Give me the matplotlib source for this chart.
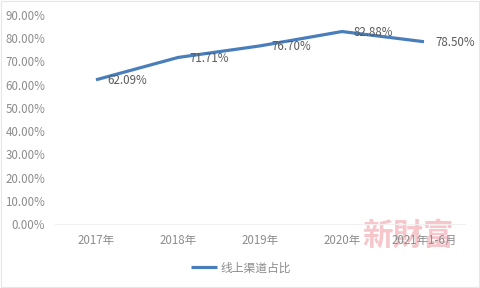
import matplotlib
matplotlib.use("Agg")
import matplotlib.pyplot as plt
from matplotlib.ticker import FuncFormatter

plt.rcParams["font.family"] = ["Noto Sans CJK SC", "DejaVu Sans"]

years = ["2017年", "2018年", "2019年", "2020年", "2021年1-6月"]
online_share = [62.09, 71.71, 76.70, 82.88, 78.50]
series_name = "线上渠道占比"

line_color = "#4a7ebb"
text_color = "#8c8c8c"

fig = plt.figure(figsize=(4.8, 2.88), dpi=100)
ax = fig.add_axes([55 / 480, 1 - 224 / 288, 410 / 480, 209 / 288])
ax.patch.set_alpha(0)

x = range(len(years))
ax.plot(x, online_share, color=line_color, lw=2.3, solid_capstyle="butt", label=series_name)
for xi, v in zip(x, online_share):
    ax.annotate(f"{v:.2f}%", (xi, v), xytext=(8, -0.5), textcoords="offset points",
                ha="left", va="center", fontsize=8.3, color="#595959")

ax.set_xlim(-0.5, len(years) - 0.5)
ax.set_ylim(0, 90)
ax.set_yticks(range(0, 91, 10))
ax.yaxis.set_major_formatter(FuncFormatter(lambda v, p: f"{v:.2f}%"))
ax.set_xticks(list(x))
ax.set_xticklabels(years)
ax.tick_params(length=0, labelsize=8.3, colors=text_color)
ax.tick_params(axis="y", pad=7)
ax.tick_params(axis="x", pad=7)
for side in ["top", "right", "left"]:
    ax.spines[side].set_visible(False)
ax.spines["bottom"].set_color("#f0f0f0")
ax.spines["bottom"].set_linewidth(0.8)

# watermark sits underneath the axes so the tick labels stay on top
fig.text(408 / 480, 1 - 236 / 288, "新財富", family=["Noto Sans CJK TC", "DejaVu Sans"],
         fontsize=22, fontweight="bold", color="#f7c6ca", ha="center", va="center", zorder=-1)

fig.legend(loc="center", bbox_to_anchor=(241 / 480, 1 - 268 / 288), frameon=False,
           fontsize=8.5, labelcolor=text_color, handlelength=2.2, handletextpad=0.3)

fig.patches.append(plt.Rectangle((0.002, 0.002), 0.995, 0.995, transform=fig.transFigure,
                                 fill=False, edgecolor="#e6e6e6", lw=0.8))

fig.savefig("out.png", dpi=100)
